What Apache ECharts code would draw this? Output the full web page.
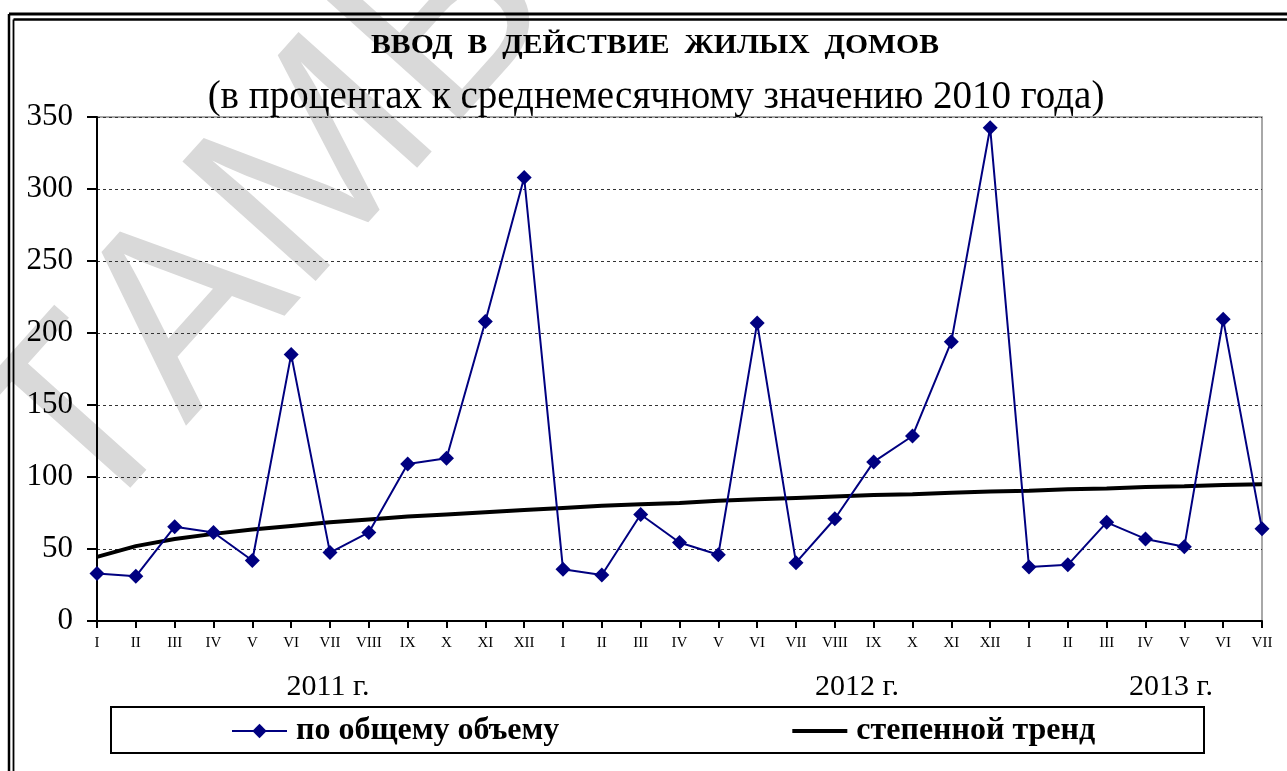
<!DOCTYPE html>
<html>
<head>
<meta charset="utf-8">
<title>Ввод в действие жилых домов</title>
<script src="https://cdn.jsdelivr.net/npm/echarts/dist/echarts.min.js"></script>
<style>
  html, body { margin: 0; padding: 0; background: #fff; }
  #chart { width: 1287px; height: 771px; }
</style>
</head>
<body>
<div id="chart"></div>
<script>
// месяцы (2011 I .. 2013 VII)
var months = [
  "I", "II", "III", "IV", "V", "VI", "VII", "VIII", "IX", "X", "XI", "XII",
  "I", "II", "III", "IV", "V", "VI", "VII", "VIII", "IX", "X", "XI", "XII",
  "I", "II", "III", "IV", "V", "VI", "VII"
];
// по общему объему, % к среднемесячному 2010 г.
var totalVals = [
  33, 31, 65.5, 61.5, 42, 185, 47.5, 61.5, 109, 113, 208, 308,
  36, 32, 74, 54.5, 46, 207, 40.5, 71, 110.5, 128.5, 194, 342.5,
  37.5, 39, 68.5, 57, 51.5, 209.5, 64
];
// степенной тренд
var trendVals = [
  44.5, 52, 57, 60.5, 63.5, 66, 68.5, 70.5, 72.5, 74, 75.5, 77,
  78.5, 80, 81, 82, 83.5, 84.5, 85.5, 86.5, 87.5, 88, 89, 90,
  90.5, 91.5, 92, 93, 93.5, 94.5, 95
];
var yTicks = [0, 50, 100, 150, 200, 250, 300, 350];
var yearLabels = ["2011 г.", "2012 г.", "2013 г."];

var serif = "'Liberation Serif', 'Times New Roman', serif";
var myChart = echarts.init(document.getElementById("chart"));

myChart.setOption({
  backgroundColor: "#fff",
  animation: false,
  grid: {
    left: 97,
    right: 25,
    top: 117,
    bottom: 150,
    show: true,
    borderColor: "#8c8c8c",
    borderWidth: 1.5,
  },
  legend: {
    left: 231,
    top: 715,
    padding: 0,
    itemWidth: 55,
    itemHeight: 18,
    itemGap: 231,
    textStyle: {
      fontFamily: serif,
      fontWeight: "bold",
      fontSize: 32,
      color: "#000",
      padding: [0, 0, 0, 4],
    },
    data: [
      { name: "по общему объему" },
      { name: "степенной тренд", itemStyle: { opacity: 0 }, lineStyle: { width: 4, color: "#000" } },
    ],
  },
  xAxis: {
    type: "category",
    boundaryGap: false,
    data: months,
    axisLine: { lineStyle: { color: "#000", width: 2 } },
    axisTick: { length: 7, lineStyle: { color: "#000", width: 2 }, interval: 0 },
    axisLabel: {
      interval: 0,
      margin: 15,
      fontFamily: serif,
      fontSize: 15,
      color: "#000",
    },
    splitLine: { show: false },
  },
  yAxis: {
    type: "value",
    min: yTicks[0],
    max: yTicks[yTicks.length - 1],
    interval: 50,
    axisLine: { show: true, lineStyle: { color: "#000", width: 2 } },
    axisTick: { show: true, length: 10, lineStyle: { color: "#000", width: 2 } },
    axisLabel: {
      margin: 24,
      fontFamily: serif,
      fontSize: 31,
      color: "#000",
    },
    splitLine: {
      show: true,
      lineStyle: { color: "#333", width: 1, type: [3, 3] },
    },
  },
  series: [
    {
      name: "по общему объему",
      type: "line",
      data: totalVals,
      symbol: "diamond",
      symbolSize: 15,
      z: 3,
      itemStyle: { color: "#000080" },
      lineStyle: { color: "#000080", width: 2 },
    },
    {
      name: "степенной тренд",
      type: "line",
      data: trendVals,
      symbol: "none",
      z: 2,
      itemStyle: { color: "#000" },
      lineStyle: { color: "#000", width: 4 },
    },
  ],
  graphic: [
    // водяной знак
    {
      type: "text",
      x: 32,
      y: 490,
      rotation: 0.84,
      z: -10,
      silent: true,
      style: {
        text: "ТАМБОВСТАТ",
        font: "260px 'Liberation Sans', Arial, sans-serif",
        fill: "#d9d9d9",
        textAlign: "left",
        textVerticalAlign: "middle",
      },
    },
    // двойная рамка
    { type: "line", shape: { x1: 9, y1: 14, x2: 9, y2: 771 }, style: { stroke: "#000", lineWidth: 2.5 } },
    { type: "line", shape: { x1: 9, y1: 14, x2: 1287, y2: 14 }, style: { stroke: "#000", lineWidth: 3 } },
    { type: "line", shape: { x1: 13.5, y1: 19.5, x2: 13.5, y2: 771 }, style: { stroke: "#000", lineWidth: 1.8 } },
    { type: "line", shape: { x1: 13.5, y1: 19.5, x2: 1287, y2: 19.5 }, style: { stroke: "#000", lineWidth: 2.5 } },
    // заголовок
    {
      type: "text",
      x: 655,
      y: 46,
      scaleX: 1.1,
      style: {
        text: "ВВОД  В  ДЕЙСТВИЕ  ЖИЛЫХ  ДОМОВ",
        font: "bold 27px " + serif,
        fill: "#000",
        textAlign: "center",
        textVerticalAlign: "middle",
      },
    },
    {
      type: "text",
      x: 656,
      y: 98,
      style: {
        text: "(в процентах к среднемесячному значению 2010 года)",
        font: "39px " + serif,
        fill: "#000",
        textAlign: "center",
        textVerticalAlign: "middle",
      },
    },
    // годы
    {
      type: "text",
      x: 328,
      y: 687,
      style: { text: yearLabels[0], font: "30px " + serif, fill: "#000", textAlign: "center", textVerticalAlign: "middle" },
    },
    {
      type: "text",
      x: 857,
      y: 687,
      style: { text: yearLabels[1], font: "30px " + serif, fill: "#000", textAlign: "center", textVerticalAlign: "middle" },
    },
    {
      type: "text",
      x: 1171,
      y: 687,
      style: { text: yearLabels[2], font: "30px " + serif, fill: "#000", textAlign: "center", textVerticalAlign: "middle" },
    },
    // рамка легенды
    {
      type: "rect",
      shape: { x: 111, y: 707, width: 1093, height: 46 },
      style: { fill: "none", stroke: "#000", lineWidth: 2 },
    },
  ],
});

window.addEventListener("resize", function () {
  myChart.resize();
});
</script>
</body>
</html>
